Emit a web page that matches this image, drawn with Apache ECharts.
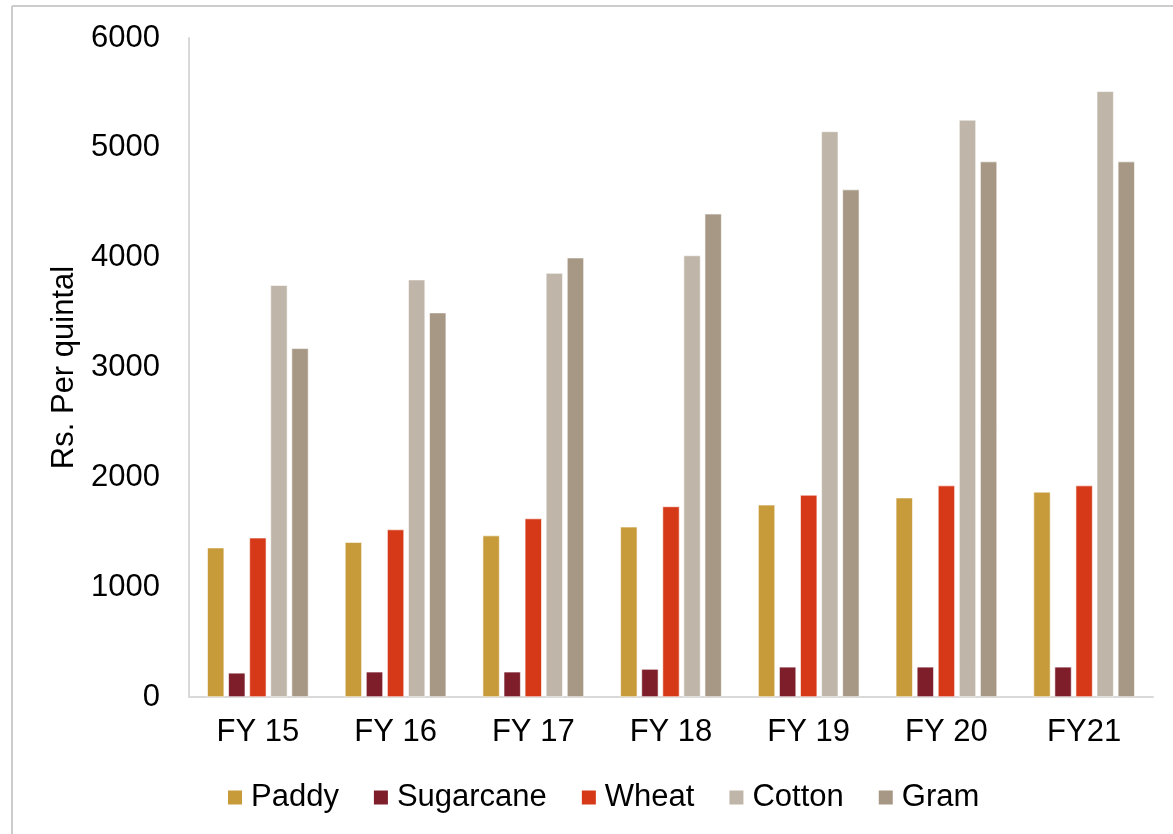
<!DOCTYPE html>
<html>
<head>
<meta charset="utf-8">
<title>Minimum support prices</title>
<script src="https://cdn.jsdelivr.net/npm/echarts@6/dist/echarts.min.js"></script>
<style>
  html, body { margin: 0; padding: 0; background: #ffffff; }
  #chart { width: 1173px; height: 834px; }
</style>
</head>
<body>
<div id="chart"></div>
<script>
// Crop prices, Rs. per quintal, by financial year
const years = ['FY 15', 'FY 16', 'FY 17', 'FY 18', 'FY 19', 'FY 20', 'FY21'];
const paddy = [1360, 1410, 1470, 1550, 1750, 1815, 1868];
const sugarcane = [220, 230, 230, 255, 275, 275, 275];
const wheat = [1450, 1525, 1625, 1735, 1840, 1925, 1925];
const cotton = [3750, 3800, 3860, 4020, 5150, 5255, 5515];
const gram = [3175, 3500, 4000, 4400, 4620, 4875, 4875];

const seriesNames = ['Paddy', 'Sugarcane', 'Wheat', 'Cotton', 'Gram'];
const seriesData = [paddy, sugarcane, wheat, cotton, gram];
const seriesColors = ['#C79A3A', '#7D1E2A', '#D53917', '#BFB5A8', '#A79885'];

const FONT = 'Liberation Sans, Arial, sans-serif';
const FS = 31;
const chart = echarts.init(document.getElementById('chart'), null, { renderer: 'canvas' });

chart.setOption({
  animation: false,
  backgroundColor: '#ffffff',
  color: seriesColors,
  textStyle: { fontFamily: FONT },
  graphic: [
    // thin grey frame along the top and left edges
    { type: 'line', shape: { x1: 12, y1: 6, x2: 1173, y2: 6 },
      style: { stroke: '#cccccc', lineWidth: 2 } },
    { type: 'line', shape: { x1: 12, y1: 6, x2: 12, y2: 834 },
      style: { stroke: '#cccccc', lineWidth: 2 } }
  ],
  grid: { left: 189, right: 20, top: 38, bottom: 137, containLabel: false },
  legend: {
    data: seriesNames,
    left: 226,
    top: 782,
    padding: 0,
    icon: 'rect',
    itemWidth: 16,
    itemHeight: 16,
    itemGap: 33,
    textStyle: { fontFamily: FONT, fontSize: FS, color: '#000000', padding: [0, 0, 0, 3] }
  },
  xAxis: {
    type: 'category',
    data: years,
    axisLine: { lineStyle: { color: '#d9d9d9', width: 2 } },
    axisTick: { show: false },
    axisLabel: { fontFamily: FONT, fontSize: FS, color: '#000000', margin: 20 }
  },
  yAxis: {
    type: 'value',
    min: 0,
    max: 6000,
    interval: 1000,
    name: 'Rs. Per quintal',
    nameLocation: 'middle',
    nameGap: 106,
    nameTextStyle: { fontFamily: FONT, fontSize: FS, color: '#000000' },
    axisLine: { show: true, lineStyle: { color: '#d9d9d9', width: 2 } },
    axisTick: { show: false },
    splitLine: { show: false },
    axisLabel: {
      fontFamily: FONT, fontSize: FS, color: '#000000', margin: 29,
      formatter: (v) => String(v)
    }
  },
  series: seriesNames.map((name, i) => ({
    name: name,
    type: 'bar',
    data: seriesData[i],
    barWidth: 17,
    barGap: '24%',
    itemStyle: { color: seriesColors[i], borderColor: '#ffffff', borderWidth: 0.6 }
  }))
});
</script>
</body>
</html>
